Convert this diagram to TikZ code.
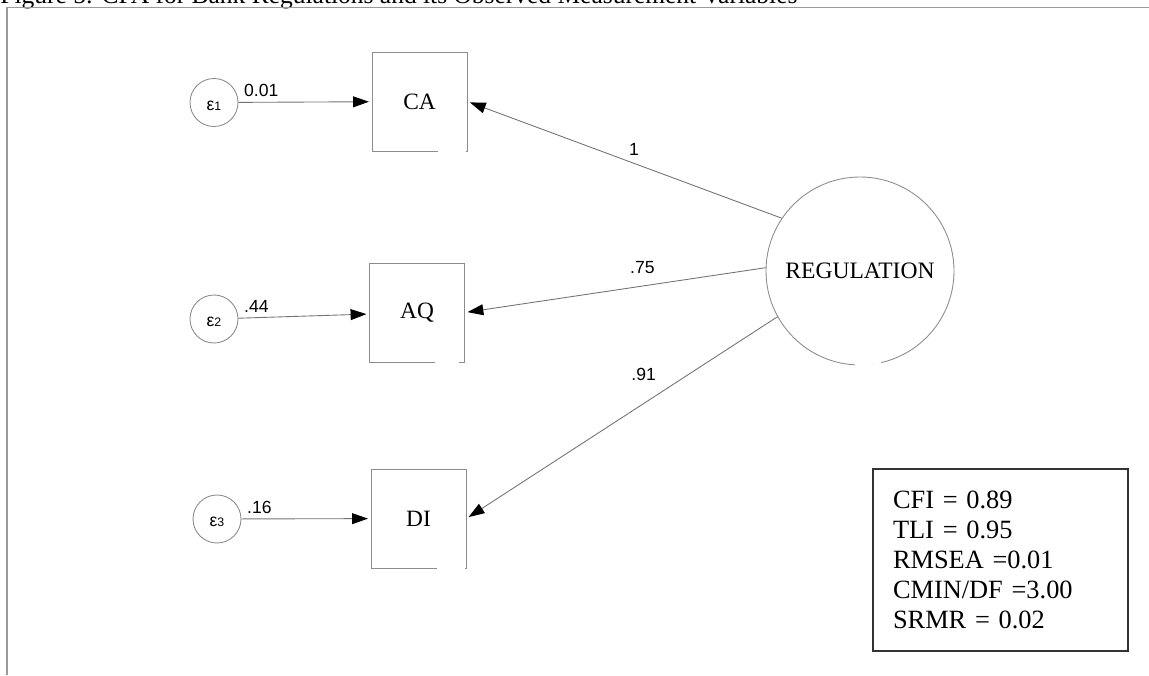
\documentclass[tikz,border=0pt]{standalone}
\usepackage{fontspec}
\setmainfont{Liberation Serif}
\newfontfamily\numfont{Liberation Sans}
\usetikzlibrary{arrows.meta,positioning,calc,shapes}

\tikzset{
  obs/.style={draw=black!45, line width=0.5pt, minimum width=1.9cm, minimum height=1.98cm, font=\fontsize{13.3}{16}\selectfont},
  err/.style={circle, draw=black!45, line width=0.5pt, minimum size=0.96cm, inner sep=0pt, text height=9pt, text depth=0pt, font=\numfont\fontsize{10}{12}\selectfont},
  latent/.style={circle, draw=black!45, line width=0.5pt, minimum size=3.76cm, font=\fontsize{13.4}{16}\selectfont},
  load/.style={draw=black!55, line width=0.5pt, -{Triangle[length=9pt,width=6.2pt,black]}, shorten >=1.5pt},
  lbl/.style={font=\numfont\fontsize{10}{12}\selectfont, inner sep=3pt},
  gap/.style={draw=white, line width=1.4pt},
  fitbox/.style={draw=black!80, line width=1pt, text width=4.3cm, inner xsep=0.4cm, minimum height=3.64cm, align=left, font=\fontsize{15}{17}\selectfont},
}

\begin{document}
\begin{tikzpicture}
\useasboundingbox (0,0) rectangle (22.98,13.5);

% Caption and frame
\node[anchor=base west, inner sep=0pt, font=\fontsize{14.5}{17}\selectfont] (title) at (0,13.43) {Figure 5: CFA for Bank Regulations and its Observed Measurement Variables};
\draw[black!40, line width=0.6pt] (0.14,0) -- (0.14,13.35) -- (22.98,13.35);

% Latent factor
\node[latent] (reg) at (17.2,8.08) {REGULATION};

% Indicators
\node[obs] (ca) at (8.39,11.47) {CA};
\node[obs] (aq) at (8.34,7.25) {AQ};
\node[obs] (di) at (8.37,3.13) {DI};

% Error terms
\node[err] (e1) at (4.28,11.45) {ε{\fontsize{7}{8}\selectfont 1}};
\node[err] (e2) at (4.28,7.12) {ε{\fontsize{7}{8}\selectfont 2}};
\node[err] (e3) at (4.34,3.12) {ε{\fontsize{7}{8}\selectfont 3}};

% Breaks in the outlines
\draw[gap] ($(ca.south east)+(-0.58,0)$) -- ($(ca.south east)+(-0.03,0)$);
\draw[gap] ($(aq.south east)+(-0.59,0)$) -- ($(aq.south east)+(-0.11,0)$);
\draw[gap] ($(di.south east)+(-0.58,0)$) -- ($(di.south east)+(-0.03,0)$);
\draw[gap] (reg.-93) arc[start angle=-93, end angle=-77, radius=1.885cm];

% Error paths
\draw[load] (e1) -- (ca) node[pos=0, above right, lbl] {0.01};
\draw[load] (e2) -- (aq) node[pos=0, above right, lbl] {.44};
\draw[load] (e3) -- (di) node[pos=0, above right, lbl] {.16};

% Loadings
\draw[load] (reg.146.6) -- (ca.east) node[pos=0.47, above=2pt, lbl, inner sep=2pt] {1};
\draw[load] (reg.178) -- (aq.east) node[pos=0.41, above=5pt, lbl, inner sep=2pt] {.75};
\draw[load] (reg.209.8) -- (di.east) node[pos=0.43, above=11pt, lbl, inner sep=2pt] {.91};

% Fit indices
\node[fitbox] (fit) at (20.01,2.3) {CFI = 0.89\\TLI = 0.95\\RMSEA =0.01\\CMIN/DF =3.00\\SRMR = 0.02};
\end{tikzpicture}
\end{document}
